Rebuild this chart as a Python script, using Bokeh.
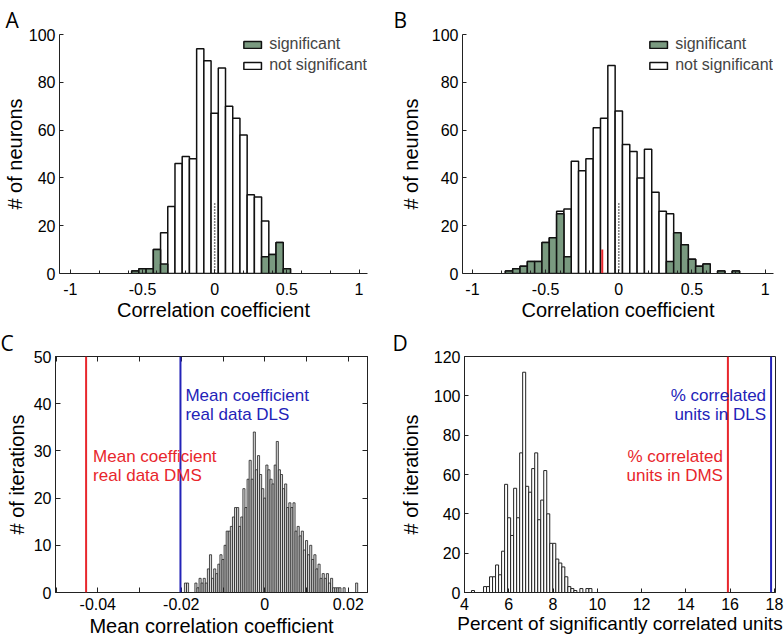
from bokeh.plotting import figure
from bokeh.models import (Range1d, FixedTicker, CustomJSTickFormatter, LinearAxis,
                          Label, Legend, LegendItem, Span, ColumnDataSource)
from bokeh.layouts import row, column
from bokeh.embed import file_html
from bokeh.resources import INLINE

# ---------------- data ----------------
# Panel A: correlation coefficients, DMS (bins of 0.05)
a_bins = [-0.55, -0.50, -0.45, -0.40, -0.35, -0.30, -0.25, -0.20, -0.15, -0.10, -0.05,
          0.00, 0.05, 0.10, 0.15, 0.20, 0.25, 0.30, 0.35, 0.40, 0.45, 0.50]
a_all = [1, 2, 2, 10, 17, 28, 46, 49, 48, 94, 89, 67, 86, 70, 65, 58, 33, 32, 22, 8, 13, 2]
a_sig = [1, 2, 2, 10, 4, 0, 0, 0, 0, 0, 0, 0, 0, 0, 0, 0, 0, 0, 7, 8, 13, 2]
a_zero_x = 0.0
a_zero_top = 30

# Panel B: correlation coefficients, DLS
b_bins = [-0.75, -0.70, -0.65, -0.60, -0.55, -0.50, -0.45, -0.40, -0.35, -0.30, -0.25,
          -0.20, -0.15, -0.10, -0.05, 0.00, 0.05, 0.10, 0.15, 0.20, 0.25, 0.30, 0.35,
          0.40, 0.45, 0.50, 0.55, 0.60, 0.65, 0.70, 0.75, 0.80]
b_all = [1, 2, 3, 5, 5, 13, 15, 26, 27, 47, 43, 48, 61, 65, 87, 68, 54, 51, 40, 52, 34,
         26, 25, 17, 12, 6, 3, 4, 0, 1, 0, 1]
b_sig = [1, 2, 3, 5, 5, 13, 15, 25, 7, 0, 0, 0, 0, 0, 0, 0, 0, 0, 0, 0, 0,
         0, 5, 17, 12, 6, 3, 4, 0, 1, 0, 1]
b_zero_x = 0.0
b_zero_top = 30
b_mean_x = -0.113
b_mean_top = 10

# Panel C: shuffled mean correlation coefficients
c_bin_start = -0.019
c_bin_width = 0.0005
c_counts = [2, 2, 0, 0, 0, 2, 1, 3, 2, 3, 2, 5, 8, 3, 5, 4, 6, 8, 7, 10,
            13, 13, 14, 16, 18, 18, 14, 16, 22, 18, 24, 28, 24, 34, 26, 29, 25, 22,
            20, 27, 26, 24, 23, 27, 32, 26, 25, 22, 23, 18, 19, 18, 19, 13, 14, 12,
            13, 9, 11, 8, 10, 7, 8, 5, 6, 3, 4, 3, 4, 2, 3, 1, 1, 1, 1, 0, 1, 0,
            0, 0, 0, 0, 2]
c_dms_mean = -0.0428
c_dls_mean = -0.0202

# Panel D: shuffled percent of significantly correlated units
d_bin_start = 4.384
d_bin_width = 0.136
d_counts = [1, 0, 0, 0, 3, 3, 8, 8, 14, 9, 21, 55, 38, 29, 53, 38, 71, 112, 54, 51,
            63, 71, 37, 47, 62, 40, 25, 25, 17, 15, 13, 8, 3, 2, 1, 0, 2, 0, 2, 2]
d_dms_pct = 15.9
d_dls_pct = 17.85

ab_x_ticks = [-1, -0.5, 0, 0.5, 1]
ab_x_minor = [-0.8, -0.6, -0.4, -0.2, 0.2, 0.4, 0.6, 0.8]
ab_y_ticks = [0, 20, 40, 60, 80, 100]
c_x_ticks = [-0.04, -0.02, 0, 0.02]
c_x_minor = [-0.05, -0.03, -0.01, 0.01]
c_y_ticks = [0, 10, 20, 30, 40, 50]
d_x_ticks = [4, 6, 8, 10, 12, 14, 16, 18]
d_y_ticks = [0, 20, 40, 60, 80, 100, 120]

# ---------------- styles ----------------
GREEN = "#7a9a80"
EDGE = "#111111"
AX = "#222222"
FONT = "Liberation Sans"
LETTER_FONT = "Open Sans"
RED = "#e8262c"
BLUE = "#2323b8"
TICK_FS = "16px"
LETTER_FS = "21px"

W1, W2 = 390, 394
H1, H2 = 324, 316

GEO = {}


def make_fig(W, H, mbl, mbr, mbt, mbb, xr, yr, box):
    p = figure(width=W, height=H, x_range=Range1d(*xr), y_range=Range1d(*yr),
               output_backend="svg", toolbar_location=None,
               min_border_left=mbl, min_border_right=mbr,
               min_border_top=mbt, min_border_bottom=mbb)
    p.grid.visible = False
    p.outline_line_color = AX if box else None
    p.outline_line_width = 1
    p.background_fill_color = "white"
    p.border_fill_color = "white"
    GEO[p.id] = dict(xr=xr, yr=yr, mbl=mbl, mbt=mbt, fw=W - mbl - mbr, fh=H - mbt - mbb)
    return p


def y_at(p, px_below_top):
    g = GEO[p.id]
    y0, y1 = g["yr"]
    return y1 - px_below_top * (y1 - y0) / g["fh"]


def style_axis(ax, ticks, minor=None, labels=True, tl=4, ml=3, standoff=2):
    ax.ticker = FixedTicker(ticks=ticks, minor_ticks=minor or [])
    ax.formatter = CustomJSTickFormatter(code="return String(tick);" if labels else "return '';")
    ax.major_tick_in = tl
    ax.major_tick_out = 0
    ax.minor_tick_in = ml
    ax.minor_tick_out = 0
    ax.axis_line_color = AX
    ax.axis_line_width = 1
    ax.major_tick_line_color = AX
    ax.minor_tick_line_color = AX if minor else None
    ax.major_label_text_font = FONT
    ax.major_label_text_font_size = TICK_FS if labels else "0px"
    ax.major_label_text_color = "black"
    ax.major_label_standoff = standoff


def set_title(ax, text, size, standoff):
    ax.axis_label = text
    ax.axis_label_text_font = FONT
    ax.axis_label_text_font_size = size
    ax.axis_label_text_font_style = "normal"
    ax.axis_label_text_color = "black"
    ax.axis_label_standoff = standoff


def set_letter(p, letter, canvas_x, standoff):
    g = GEO[p.id]
    p.title.text = letter
    p.title.align = "left"
    p.title.offset = canvas_x - g["mbl"]
    p.title.text_font = LETTER_FONT
    p.title.text_font_size = LETTER_FS
    p.title.text_font_style = "normal"
    p.title.text_color = "black"
    p.title.standoff = standoff


def nz(xs, ys):
    pairs = [(x, y) for x, y in zip(xs, ys) if y > 0]
    return ColumnDataSource(dict(x=[q[0] for q in pairs], top=[q[1] for q in pairs]))


def corr_panel(W, mbl, mbr, xr, bins, allc, sigc, zero_x, zero_top, letter, letter_cx,
               ylab_standoff):
    p = make_fig(W, H1, mbl, mbr, 34, 51, xr, (0, 100), False)
    r_all = p.vbar(x="x", top="top", width=0.05, source=nz(bins, allc),
                   fill_color="white", line_color=EDGE, line_width=1.5)
    r_sig = p.vbar(x="x", top="top", width=0.05, source=nz(bins, sigc),
                   fill_color=GREEN, line_color=EDGE, line_width=1.5)
    p.segment(x0=[zero_x], y0=[0], x1=[zero_x], y1=[zero_top], line_color="black",
              line_width=1.5, line_dash="1 2")
    style_axis(p.xaxis[0], ab_x_ticks, ab_x_minor, tl=4, ml=3, standoff=9)
    style_axis(p.yaxis[0], ab_y_ticks, None, tl=4, standoff=4)
    set_title(p.xaxis[0], "Correlation coefficient", "20px", 1)
    set_title(p.yaxis[0], "# of neurons", "20px", ylab_standoff)
    legend = Legend(items=[LegendItem(label="significant", renderers=[r_sig]),
                           LegendItem(label="not significant", renderers=[r_all])],
                    location="top_right", border_line_color=None, background_fill_alpha=0,
                    padding=0, margin=0, spacing=1, glyph_width=22, glyph_height=9,
                    label_standoff=6, label_height=20, label_text_font=FONT,
                    label_text_font_size="16px")
    p.add_layout(legend)
    set_letter(p, letter, letter_cx, 2)
    return p


# ---------------- Panel A ----------------
pa = corr_panel(W1, 54, 23, (-1.075, 1.0586), a_bins, a_all, a_sig, a_zero_x,
                a_zero_top, "A", 0, 0)

# ---------------- Panel B ----------------
pb = corr_panel(W2, 72, 11, (-1.068, 1.057), b_bins, b_all, b_sig, b_zero_x,
                b_zero_top, "B", 3, 7)
pb.segment(x0=[b_mean_x], y0=[0], x1=[b_mean_x], y1=[b_mean_top], line_color=RED,
           line_width=2)

# ---------------- Panel C ----------------
pc = make_fig(W1, H2, 55, 23, 32, 48, (-0.05013, 0.0246), (0, 50), True)
c_x = [c_bin_start + i * c_bin_width for i in range(len(c_counts))]
pc.vbar(x="x", top="top", width=c_bin_width, source=nz(c_x, c_counts),
        fill_color="#d8d8d8", line_color="#222222", line_width=0.8)
pc.add_layout(Span(location=c_dms_mean, dimension="height", line_color=RED, line_width=2))
pc.add_layout(Span(location=c_dls_mean, dimension="height", line_color=BLUE, line_width=2))
style_axis(pc.xaxis[0], c_x_ticks, c_x_minor, tl=5, ml=5, standoff=5)
style_axis(pc.yaxis[0], c_y_ticks, None, tl=5, standoff=4)
set_title(pc.xaxis[0], "Mean correlation coefficient", "20px", 2)
set_title(pc.yaxis[0], "# of iterations", "20px", 3)
c_top = LinearAxis()
c_right = LinearAxis()
pc.add_layout(c_top, "above")
pc.add_layout(c_right, "right")
style_axis(c_top, c_x_ticks, c_x_minor, labels=False, tl=5, ml=5, standoff=0)
style_axis(c_right, c_y_ticks, None, labels=False, tl=5, standoff=0)
for txt, dy, colr, xv, off in [("Mean coefficient", 39, BLUE, c_dls_mean, 5),
                               ("real data DLS", 58, BLUE, c_dls_mean, 5),
                               ("Mean coefficient", 100, RED, c_dms_mean, 7),
                               ("real data DMS", 119, RED, c_dms_mean, 7)]:
    pc.add_layout(Label(x=xv, y=y_at(pc, dy), x_offset=off, text=txt, text_font=FONT,
                        text_font_size="17px", text_color=colr, text_align="left",
                        text_baseline="alphabetic"))
set_letter(pc, "C", 0, 0)

# ---------------- Panel D ----------------
pd_ = make_fig(W2, H2, 74, 9, 32, 48, (4.0, 18.05), (0, 120), True)
d_x = [d_bin_start + i * d_bin_width for i in range(len(d_counts))]
pd_.vbar(x="x", top="top", width=d_bin_width, source=nz(d_x, d_counts),
         fill_color="white", line_color="#222222", line_width=1)
pd_.add_layout(Span(location=d_dms_pct, dimension="height", line_color=RED, line_width=2))
pd_.add_layout(Span(location=d_dls_pct, dimension="height", line_color=BLUE, line_width=2))
style_axis(pd_.xaxis[0], d_x_ticks, None, tl=4, standoff=5)
style_axis(pd_.yaxis[0], d_y_ticks, None, tl=4, standoff=4)
set_title(pd_.xaxis[0], "Percent of significantly correlated units", "19px", 0)
set_title(pd_.yaxis[0], "# of iterations", "20px", 9)
for txt, dy, colr, xv in [("% correlated", 39, BLUE, d_dls_pct),
                          ("units in DLS", 58, BLUE, d_dls_pct),
                          ("% correlated", 100, RED, d_dms_pct),
                          ("units in DMS", 119, RED, d_dms_pct)]:
    pd_.add_layout(Label(x=xv, y=y_at(pd_, dy), x_offset=-5, text=txt, text_font=FONT,
                         text_font_size="17px", text_color=colr, text_align="right",
                         text_baseline="alphabetic"))
set_letter(pd_, "D", 2, 0)

layout = column(row(pa, pb), row(pc, pd_))
open("out.html", "w").write(file_html(layout, INLINE))
